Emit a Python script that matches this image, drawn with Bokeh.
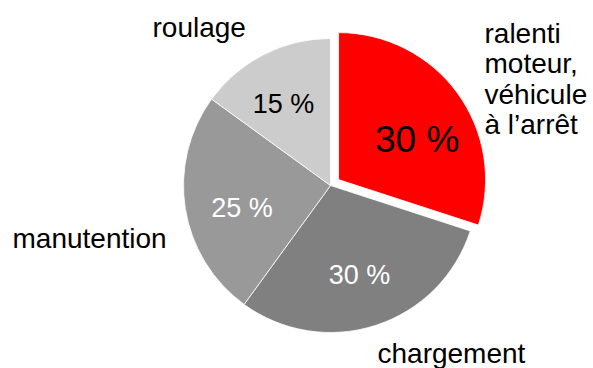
import math
from bokeh.plotting import figure
from bokeh.models import Range1d
from bokeh.core.properties import value
from bokeh.embed import file_html
from bokeh.resources import INLINE

# data
categories = ["ralenti\nmoteur,\nvéhicule\nà l’arrêt", "chargement", "manutention", "roulage"]
values = [30, 30, 25, 15]
pct_labels = ["30 %", "30 %", "25 %", "15 %"]

# style
colors = ["#FF0000", "#808080", "#999999", "#CCCCCC"]
pct_colors = ["#000000", "#FFFFFF", "#FFFFFF", "#000000"]
pct_sizes = ["37px", "27px", "27px", "27px"]
explode = [10, 0, 0, 0]
pct_radius = [0.60, 0.64, 0.62, 0.64]
pct_angle_shift = [-9, 0, 5, 3]

W, H = 593, 368
cx, cy, R = 330, H - 185, 147

p = figure(width=W, height=H, output_backend="svg", toolbar_location=None,
           x_range=Range1d(0, W), y_range=Range1d(0, H),
           min_border=0, outline_line_color=None)
p.axis.visible = False
p.grid.visible = False
p.background_fill_color = "white"
p.border_fill_color = "white"

total = sum(values)
start = 90.0  # degrees, going clockwise
for i, v in enumerate(values):
    sweep = 360.0 * v / total
    a_end = start
    a_start = start - sweep
    mid = math.radians((a_start + a_end) / 2)
    ox = cx + explode[i] * math.cos(mid)
    oy = cy + explode[i] * math.sin(mid)
    p.wedge(x=[ox], y=[oy], radius=R, start_angle=[math.radians(a_start)],
            end_angle=[math.radians(a_end)], fill_color=colors[i],
            line_color="white", line_width=0.8)
    la = math.radians((a_start + a_end) / 2 + pct_angle_shift[i])
    lx = ox + pct_radius[i] * R * math.cos(la)
    ly = oy + pct_radius[i] * R * math.sin(la)
    p.text(x=[lx], y=[ly], text=[pct_labels[i]], text_align="center",
           text_baseline="middle", text_font=value("Liberation Sans"),
           text_font_size=pct_sizes[i], text_color=pct_colors[i])
    start = a_start

# multi-line category label (top anchored)
p.text(x=[484], y=[H - 17.5], text=[categories[0]], text_align="left", text_baseline="top",
       text_font=value("Liberation Sans"), text_font_size="28px",
       text_color="#000000", text_line_height=0.98)

# single-line category labels (middle anchored)
p.text(x=[377, 12, 152], y=[H - 352.5, H - 237.5, H - 27.3], text=categories[1:],
       text_align="left", text_baseline="middle",
       text_font=value("Liberation Sans"), text_font_size="28px",
       text_color="#000000")

open("out.html", "w").write(file_html(p, INLINE))
